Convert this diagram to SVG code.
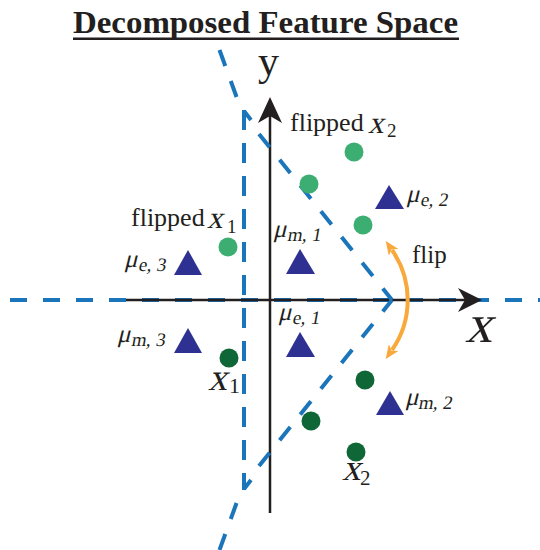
<svg xmlns="http://www.w3.org/2000/svg" width="540" height="550" viewBox="0 0 540 550">
<defs>
<style>
.bd{fill:none;stroke:#1b75bb;stroke-width:4}
.ax{fill:none;stroke:#231f20;stroke-width:2.5}
.tri{fill:#2e3192}
.lg{fill:#3dae72}
.dg{fill:#0f6636}
.t{font-family:"Liberation Serif","Times New Roman",serif;fill:#231f20}
</style>
<marker id="oa" viewBox="0 0 14 12" refX="3" refY="6" markerWidth="14" markerHeight="12" markerUnits="userSpaceOnUse" orient="auto-start-reverse">
<path d="M0,0 L14,6 L0,12 L4,6 z" fill="#f9a93b"/>
</marker>
</defs>
<g id="title">
<text class="t" x="73" y="33" font-size="31" font-weight="bold" textLength="385" lengthAdjust="spacingAndGlyphs">Decomposed Feature Space</text>
<rect x="73" y="37.5" width="386" height="2.5" fill="#231f20"/>
</g>
<g id="connectors">
<line class="bd" x1="10" y1="300" x2="540" y2="300" stroke-dasharray="17 16"/>
<path class="ax" d="M126,300 H466"/>
<polygon points="482,300 458,288 465,300 458,312" fill="#231f20"/>
<path class="ax" d="M270,116 V513"/>
<polygon points="270,97 258,123 270,116 282,123" fill="#231f20"/>
<path class="bd" d="M244,110 V490" stroke-dasharray="20 13"/>
<path class="bd" d="M244,111 L251,120 M244,489 L251,480"/>
<path class="bd" d="M219.5,50 L242,112" stroke-dasharray="17 16"/>
<path class="bd" d="M219.5,550 L242,488" stroke-dasharray="17 16"/>
<path class="bd" d="M259,134 L392,300" stroke-dasharray="17 16"/>
<path class="bd" d="M259,466 L392,300" stroke-dasharray="17 16"/>
<path d="M392,250 A87.5,87.5 0 0 1 392,350" fill="none" stroke="#f9a93b" stroke-width="4" marker-start="url(#oa)" marker-end="url(#oa)"/>
</g>
<g id="axis-labels">
<text class="t" x="258" y="75" font-size="42">y</text>
<text class="t" transform="translate(465 342) skewX(-14)" font-size="54">x</text>
</g>
<g id="flipped-x2">
<circle class="lg" cx="354" cy="152" r="9.5"/>
<circle class="lg" cx="309" cy="184" r="9.5"/>
<circle class="lg" cx="363" cy="225" r="9.5"/>
<text class="t" x="290" y="131" font-size="26">flipped</text>
<text class="t" transform="translate(368 133) skewX(-14)" font-size="31">x</text>
<text class="t" x="387" y="137" font-size="19">2</text>
</g>
<g id="flipped-x1">
<circle class="lg" cx="228" cy="247" r="9.5"/>
<text class="t" x="131" y="226" font-size="26">flipped</text>
<text class="t" transform="translate(207 228) skewX(-14)" font-size="31">x</text>
<text class="t" x="227" y="233" font-size="19">1</text>
</g>
<g id="x1">
<circle class="dg" cx="229" cy="358" r="9.5"/>
<text class="t" transform="translate(208 390) skewX(-14)" font-size="38">x</text>
<text class="t" x="229" y="393" font-size="22">1</text>
</g>
<g id="x2">
<circle class="dg" cx="365" cy="380" r="9.5"/>
<circle class="dg" cx="311" cy="421" r="9.5"/>
<circle class="dg" cx="356" cy="452" r="9.5"/>
<text class="t" transform="translate(342 480) skewX(-14)" font-size="37">x</text>
<text class="t" x="360" y="485" font-size="21">2</text>
</g>
<g id="flip">
<text class="t" x="412" y="263" font-size="25">flip</text>
</g>
<g id="mu-e3">
<polygon class="tri" points="188,250 174,275 202,275"/>
<text class="t" transform="translate(124 267) skewX(-14)" font-size="25">μ</text>
<text class="t" transform="translate(138 271) skewX(-10)" font-size="19">e, 3</text>
</g>
<g id="mu-m3">
<polygon class="tri" points="188,328 174,353 202,353"/>
<text class="t" transform="translate(117 342) skewX(-14)" font-size="25">μ</text>
<text class="t" transform="translate(131 346) skewX(-10)" font-size="19">m, 3</text>
</g>
<g id="mu-m1">
<polygon class="tri" points="300,249 286,274 315,274"/>
<text class="t" transform="translate(273 237) skewX(-14)" font-size="25">μ</text>
<text class="t" transform="translate(287 241) skewX(-10)" font-size="19">m, 1</text>
</g>
<g id="mu-e1">
<polygon class="tri" points="300,332 286,357 315,357"/>
<text class="t" transform="translate(278 320) skewX(-14)" font-size="25">μ</text>
<text class="t" transform="translate(292 324) skewX(-10)" font-size="19">e, 1</text>
</g>
<g id="mu-e2">
<polygon class="tri" points="389,185 375,209 404,209"/>
<text class="t" transform="translate(406 202) skewX(-14)" font-size="25">μ</text>
<text class="t" transform="translate(420 206) skewX(-10)" font-size="19">e, 2</text>
</g>
<g id="mu-m2">
<polygon class="tri" points="390,391 376,415 404,415"/>
<text class="t" transform="translate(405 405) skewX(-14)" font-size="25">μ</text>
<text class="t" transform="translate(418 409) skewX(-10)" font-size="19">m, 2</text>
</g>
</svg>
